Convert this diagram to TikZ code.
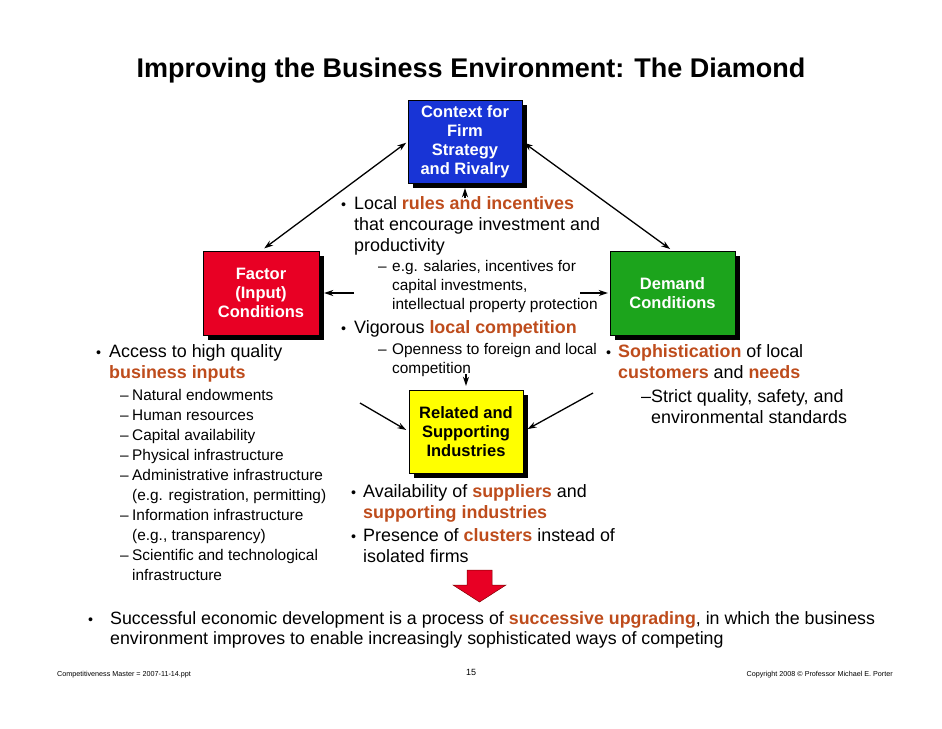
\documentclass[tikz,border=0pt]{standalone}
\usepackage{fontspec}
\setmainfont{Liberation Sans}
\usepackage{xcolor}
\usetikzlibrary{arrows.meta, positioning, calc, shadows}

\definecolor{ctxblue}{RGB}{24,52,214}
\definecolor{facred}{RGB}{232,0,36}
\definecolor{demgreen}{RGB}{28,164,28}
\definecolor{relyellow}{RGB}{255,255,0}
\definecolor{hlorange}{RGB}{190,76,28}

\newcommand{\hl}[1]{\textbf{\textcolor{hlorange}{#1}}}
\newcommand{\bul}[1][13pt]{\makebox[#1][l]{\scalebox{0.8}{\textbullet}}}
\newcommand{\dsh}[1][14pt]{\makebox[#1][l]{--}}
\newcommand{\gap}[1][13pt]{\hspace*{#1}}

\tikzset{
  dbox/.style={draw=black, line width=0.4pt, minimum width=#1, minimum height=83pt,
    inner sep=0pt, align=center, font=\fontsize{16.5}{19}\selectfont\bfseries,
    drop shadow={shadow xshift=5pt, shadow yshift=-5pt, fill=black, opacity=1}},
  % ancora = linea di base dell'ultima riga
  mainpt/.style={anchor=base west, inner sep=0pt, align=left, font=\fontsize{17.9}{21}\selectfont},
  subpt/.style={anchor=base west, inner sep=0pt, align=left, font=\fontsize{15.4}{18.7}\selectfont},
  link/.style={line width=1.3pt, -{Stealth[length=9pt,width=6pt]}},
  dlink/.style={line width=1.3pt, {Stealth[length=9pt,width=6pt]}-{Stealth[length=9pt,width=6pt]}},
}

\begin{document}
\begin{tikzpicture}[x=1pt, y=-1pt]
    \useasboundingbox (0,0) rectangle (942,728);

    % titolo
    \node[font=\fontsize{27}{30}\selectfont\bfseries, anchor=base, inner sep=0pt] (title) at (471,77) {Improving the Business Environment: The Diamond};

    % i quattro vertici del diamante
    \node[dbox=114pt, fill=ctxblue, text=white] (ctx) at (465,141.5) {Context for\\Firm\\Strategy\\and Rivalry};
    \node[dbox=116pt, fill=facred, text=white, minimum height=84pt] (fac) at (261,293) {Factor\\(Input)\\Conditions};
    \node[dbox=125pt, fill=demgreen, text=white, minimum height=84pt] (dem) at (672.5,293) {Demand\\Conditions};
    \node[dbox=114pt, fill=relyellow, text=black] (rel) at (466,431.5) {Related and\\Supporting\\Industries};

    % testo centrale (strategia)
    \node[mainpt] (ctxa) at (341,251) {\bul Local \hl{rules and incentives}\\ \gap that encourage investment and\\ \gap productivity};
    \node[subpt] (ctxa1) at (378,309) {\dsh e.g. salaries, incentives for\\ \gap[14pt]capital investments,\\ \gap[14pt]intellectual property protection};
    \node[mainpt] (ctxb) at (341,333) {\bul Vigorous \hl{local competition}};
    \node[subpt] (ctxb1) at (378,373) {\dsh Openness to foreign and local\\ \gap[14pt]competition};

    % fattori
    \node[mainpt] (faca) at (96,378) {\bul Access to high quality\\ \gap\hl{business inputs}};
    \node[subpt, font=\fontsize{15.4}{20}\selectfont] (faca1) at (120,580) {%
      \dsh[12pt]Natural endowments\\
      \dsh[12pt]Human resources\\
      \dsh[12pt]Capital availability\\
      \dsh[12pt]Physical infrastructure\\
      \dsh[12pt]Administrative infrastructure\\
      \gap[12pt](e.g. registration, permitting)\\
      \dsh[12pt]Information infrastructure\\
      \gap[12pt](e.g., transparency)\\
      \dsh[12pt]Scientific and technological\\
      \gap[12pt]infrastructure};

    % domanda
    \node[mainpt] (dema) at (606,378) {\bul[12pt]\hl{Sophistication} of local\\ \gap[12pt]\hl{customers} and \hl{needs}};
    \node[mainpt] (dema1) at (641,423) {--Strict quality, safety, and\\ \phantom{--}environmental standards};

    % settori correlati
    \node[mainpt] (rela) at (351,518) {\bul[12pt]Availability of \hl{suppliers} and\\ \gap[12pt]\hl{supporting industries}};
    \node[mainpt] (relb) at (351,562) {\bul[12pt]Presence of \hl{clusters} instead of\\ \gap[12pt]isolated firms};

    % conclusione
    \node[mainpt, font=\fontsize{17.8}{20}\selectfont] (upg) at (88,644) {\bul[22pt]Successful economic development is a process of \hl{successive upgrading}, in which the business\\ \gap[22pt]environment improves to enable increasingly sophisticated ways of competing};

    % pie' di pagina
    \node[anchor=base west, inner sep=0pt, font=\fontsize{7.2}{9}\selectfont] (ftl) at (57,676) {Competitiveness Master = 2007-11-14.ppt};
    \node[anchor=base, inner sep=0pt, font=\fontsize{9}{11}\selectfont] (ftn) at (471,675) {15};
    \node[anchor=base east, inner sep=0pt, font=\fontsize{7.2}{9}\selectfont] (ftr) at (893,676) {Copyright 2008 \textcopyright{} Professor Michael E. Porter};

    % frecce
    \coordinate (ctxin) at (465,198);
    \coordinate (facin) at (354,293);
    \coordinate (demin) at (580,293);
    \coordinate (relin) at (466,374);
    \coordinate (relinl) at (360,403);
    \coordinate (relinr) at (593,393);
    \draw[dlink, shorten <=4pt, shorten >=2pt] (fac.north) -- (ctx.west);
    \draw[dlink, shorten <=2pt, shorten >=3pt] (ctx.east) -- (dem.north);
    \draw[link, shorten >=5pt] (ctxin) -- (ctx.south);
    \draw[link, shorten >=5pt] (facin) -- (fac.east);
    \draw[link, shorten >=2pt] (demin) -- (dem.west);
    \draw[link, shorten >=4pt] (relin) -- (rel.north);
    \draw[link, shorten >=3pt] (relinl) -- (rel.west);
    \draw[link, shorten >=5pt] (relinr) -- (rel.east);

    % freccia rossa
    \draw[fill=facred, draw=red!50!black, line width=0.5pt] (467,570) -- (492,570) -- (492,585) -- (506,585) -- (479.5,602) -- (453,585) -- (467,585) -- cycle;
\end{tikzpicture}
\end{document}
